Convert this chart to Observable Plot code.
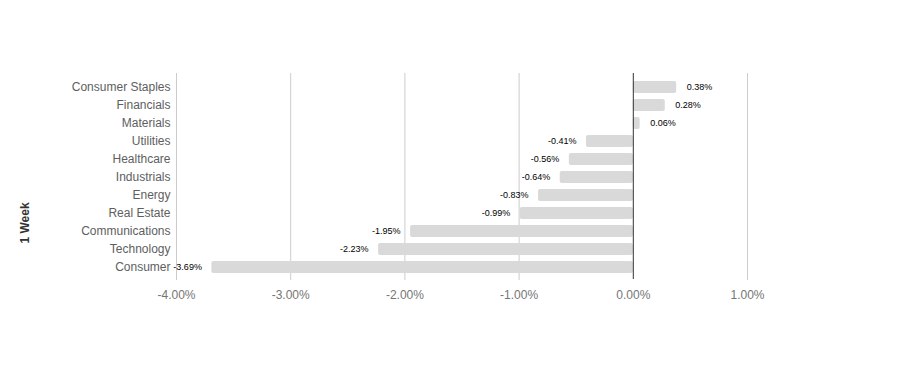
<!DOCTYPE html>
<html>
<head>
<meta charset="utf-8">
<script src="https://cdn.jsdelivr.net/npm/d3@7"></script>
<script src="https://cdn.jsdelivr.net/npm/@observablehq/plot@0.6"></script>
<style>
  html, body { margin: 0; padding: 0; background: #fff; }
  #chart svg { display: block; }
</style>
</head>
<body>
<div id="chart"></div>
<script>
const sectors = ["Consumer Staples", "Financials", "Materials", "Utilities", "Healthcare", "Industrials", "Energy", "Real Estate", "Communications", "Technology", "Consumer"];
const values = [0.38, 0.28, 0.06, -0.41, -0.56, -0.64, -0.83, -0.99, -1.95, -2.23, -3.69];
const xTicks = [-4, -3, -2, -1, 0, 1];
const axisTitle = "1 Week";

const data = sectors.map((s, i) => ({sector: s, value: values[i]}));
const fmt = v => v.toFixed(2) + "%";

const chart = Plot.plot({
  width: 924,
  height: 391,
  marginTop: 80,
  marginBottom: 117,
  marginLeft: 176,
  marginRight: 177,
  style: {fontFamily: "Arial, 'Liberation Sans', sans-serif", background: "#fff"},
  x: {domain: [-4, 1]},
  y: {domain: sectors, paddingInner: 0.34, paddingOuter: 0},
  marks: [
    Plot.ruleX(xTicks.filter(t => t !== 0), {x: d => d, stroke: "#cccccc", strokeWidth: 1, insetTop: -7, insetBottom: -6}),
    Plot.barX(data, {x: "value", y: "sector", fill: "#d9d9d9", rx: 2}),
    Plot.ruleX([0], {stroke: "#333333", strokeWidth: 1, insetTop: -7, insetBottom: -5}),
    Plot.text(data.filter(d => d.value >= 0), {x: "value", y: "sector", text: d => fmt(d.value), textAnchor: "start", dx: 10, fontSize: 9, fill: "#000"}),
    Plot.text(data.filter(d => d.value < 0), {x: "value", y: "sector", text: d => fmt(d.value), textAnchor: "end", dx: -10, fontSize: 9, fill: "#000"}),
    Plot.axisX(xTicks, {tickSize: 0, tickPadding: 16, tickFormat: d => d.toFixed(2) + "%", fontSize: 12, fill: "#757575", label: null}),
    Plot.axisY({tickSize: 0, tickPadding: 6, fontSize: 12, fill: "#5e5e5e", label: null}),
    Plot.text([axisTitle], {frameAnchor: "left", text: d => d, rotate: -90, dx: -151, dy: 66, fontSize: 12, fontWeight: "bold", fill: "#333333"})
  ]
});
document.getElementById("chart").appendChild(chart);
</script>
</body>
</html>
